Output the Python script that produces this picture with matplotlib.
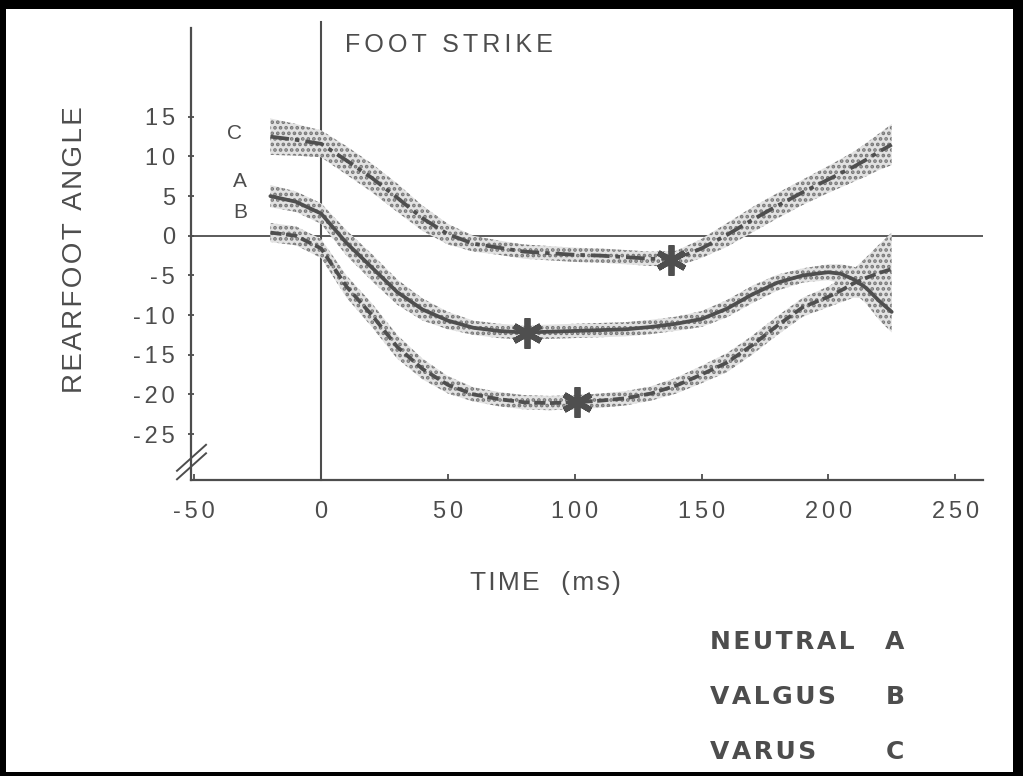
import numpy as np
import matplotlib
matplotlib.use("Agg")
import matplotlib.pyplot as plt
from matplotlib.patches import Rectangle
from matplotlib.lines import Line2D

# ---- data: rearfoot angle (deg) vs time (ms) -------------------------------
time_ms = [-20, -10, 0, 10, 20, 30, 40, 50, 60, 70, 80, 90, 100, 110, 120,
           130, 140, 150, 160, 170, 180, 190, 200, 205, 210, 215, 220, 225]

neutral_a = [5.0, 4.3, 2.8, -0.9, -4.0, -7.1, -9.3, -10.7, -11.6, -12.0, -12.2,
             -12.1, -12.0, -11.9, -11.8, -11.5, -11.1, -10.5, -9.2, -7.4, -5.9,
             -5.0, -4.6, -4.8, -5.5, -6.6, -8.2, -9.6]
neutral_sd = [1.4, 1.3, 1.3, 1.6, 1.7, 1.6, 1.4, 1.1, 0.9, 0.9, 0.9, 0.9, 0.9,
              0.9, 0.9, 0.9, 0.9, 1.0, 1.1, 1.1, 1.0, 0.9, 1.0, 1.2, 1.6, 2.0,
              2.4, 2.6]

valgus_b = [0.4, 0.0, -1.6, -6.4, -10.0, -14.0, -16.8, -18.8, -20.0, -20.6,
            -21.0, -21.1, -21.0, -20.8, -20.5, -19.9, -18.9, -17.5, -16.0,
            -13.8, -11.3, -9.0, -7.7, -6.9, -6.0, -5.3, -4.7, -4.2]
valgus_sd = [1.2, 1.2, 1.2, 1.4, 1.5, 1.5, 1.3, 1.1, 0.9, 0.9, 0.9, 0.9, 0.9,
             0.9, 0.9, 0.9, 1.0, 1.1, 1.2, 1.2, 1.2, 1.2, 1.3, 1.5, 1.8, 2.6,
             3.6, 4.6]

varus_c = [12.5, 12.1, 11.6, 9.5, 7.3, 4.8, 2.2, 0.2, -1.0, -1.5, -2.0, -2.2,
           -2.4, -2.5, -2.7, -2.9, -2.9, -1.6, 0.1, 2.0, 3.8, 5.5, 7.1, 7.9,
           8.7, 9.6, 10.6, 11.5]
varus_sd = [2.3, 2.0, 1.7, 1.8, 1.8, 1.8, 1.6, 1.3, 1.0, 0.9, 0.9, 0.9, 0.9,
            0.9, 0.9, 0.9, 1.0, 1.2, 1.5, 1.6, 1.6, 1.6, 1.7, 1.8, 1.9, 2.1,
            2.3, 2.6]

# maximum pronation points (asterisks)
peak_time = [81, 101, 138]
peak_angle = [-12.2, -21.0, -3.0]

x_ticks = [-50, 0, 50, 100, 150, 200, 250]
y_ticks = [-25, -20, -15, -10, -5, 0, 5, 10, 15]

group_letters = ["A", "B", "C"]
group_names = ["NEUTRAL", "VALGUS", "VARUS"]

# ---- helpers ---------------------------------------------------------------
SIX_PER_EM = "\u2006"
HAIR = "\u200a"


def spaced(s, gap):
    """Letter-spaced string (typewriter-style lettering)."""
    return gap.join(s)


# ---- figure ----------------------------------------------------------------
plt.rcParams["axes.unicode_minus"] = False
plt.rcParams["hatch.linewidth"] = 1.8
plt.rcParams["hatch.color"] = "#7c7c7c"

W, H = 1023, 776
fig = plt.figure(figsize=(W / 100, H / 100), dpi=100, facecolor="black")
fig.patches.append(Rectangle((6 / W, 4 / H), 1007 / W, 763 / H,
                             transform=fig.transFigure, facecolor="white",
                             edgecolor="none", zorder=-10))

ink = "#4d4d4d"
fonts = ["Liberation Sans", "DejaVu Sans"]

ax = fig.add_axes([191 / W, 1 - 480 / H, (983 - 191) / W, (480 - 28) / H])
ax.set_facecolor("none")
ax.set_zorder(5)
ax.set_xlim(-51.3, 261)
ax.set_ylim(-30.8, 26.2)

for side in ("top", "right"):
    ax.spines[side].set_visible(False)
for side in ("left", "bottom"):
    ax.spines[side].set_color(ink)
    ax.spines[side].set_linewidth(1.6)

ax.set_xticks(x_ticks)
ax.set_xticklabels([spaced(str(v), SIX_PER_EM) for v in x_ticks])
ax.set_yticks(y_ticks)
ax.set_yticklabels([spaced(str(v), SIX_PER_EM) for v in y_ticks])
ax.tick_params(axis="x", direction="in", length=4, width=1.3, color=ink,
               pad=15, labelsize=17, labelcolor=ink)
ax.tick_params(axis="y", direction="inout", length=5, width=1.3, color=ink,
               pad=9, labelsize=17, labelcolor=ink)
for lab in ax.get_xticklabels() + ax.get_yticklabels():
    lab.set_fontfamily(fonts)

# reference lines: zero angle and foot strike
ax.axhline(0, color=ink, lw=1.3, zorder=1)
ax.plot([0, 0], [-30.8, 26.9], color=ink, lw=1.5, clip_on=False, zorder=1)

t = np.array(time_ms)
series = [
    (np.array(neutral_a), np.array(neutral_sd), "-"),
    (np.array(valgus_b), np.array(valgus_sd), (0, (3.0, 1.2))),
    (np.array(varus_c), np.array(varus_sd), (0, (5.0, 1.6, 1.2, 1.6))),
]
for mean, sd, ls in series:
    ax.fill_between(t, mean - sd, mean + sd, facecolor="#e2e2e2",
                    edgecolor="#777777", hatch="...", linewidth=0, zorder=2)
for mean, sd, ls in series:
    ax.plot(t, mean, color="#4f4f4f", lw=2.7, ls=ls, zorder=3,
            solid_capstyle="round", dash_capstyle="butt")

ax.plot(peak_time, peak_angle, ls="none", marker=(6, 2, 0), ms=22,
        mew=4.2, color="#4f4f4f", zorder=4)

# curve letters at the start of each trace
ax.text(-34, 12.9, group_letters[2], fontsize=15, color=ink, family=fonts,
        ha="center", va="center")
ax.text(-32, 6.9, group_letters[0], fontsize=15, color=ink, family=fonts,
        ha="center", va="center")
ax.text(-32, 2.9, group_letters[1], fontsize=15, color=ink, family=fonts,
        ha="center", va="center")

# axis break on the angle axis
inv = fig.dpi_scale_trans.inverted()
bx, by = inv.transform(ax.transData.transform((-51.3, -28.0)))
for dy in (0.0, -0.085):
    fig.add_artist(Line2D([bx - 0.14, bx + 0.15],
                          [by - 0.13 + dy, by + 0.13 + dy],
                          transform=fig.dpi_scale_trans, color=ink, lw=1.4,
                          zorder=6))

# titles and labels
fig.text(345 / W, 1 - 45 / H, spaced("FOOT STRIKE", SIX_PER_EM), fontsize=18,
         color=ink, family=fonts, ha="left", va="center")
fig.text(75 / W, 1 - 250 / H, spaced("REARFOOT ANGLE", HAIR), fontsize=20,
         color=ink, family=fonts, rotation=90, ha="center", va="center")
fig.text(545 / W, 1 - 583 / H, spaced("TIME  (ms)", HAIR), fontsize=19,
         color=ink, family=fonts, ha="center", va="center")

for i, (name, letter) in enumerate(zip(group_names, group_letters)):
    y = 1 - (642 + 55 * i) / H
    fig.text(710 / W, y, spaced(name, HAIR), fontsize=18, color=ink,
             family=["DejaVu Sans"], fontweight="bold", ha="left", va="center")
    fig.text(895 / W, y, letter, fontsize=18, color=ink, family=["DejaVu Sans"],
             fontweight="bold", ha="center", va="center")

fig.savefig("out.png", dpi=100, facecolor=fig.get_facecolor())
